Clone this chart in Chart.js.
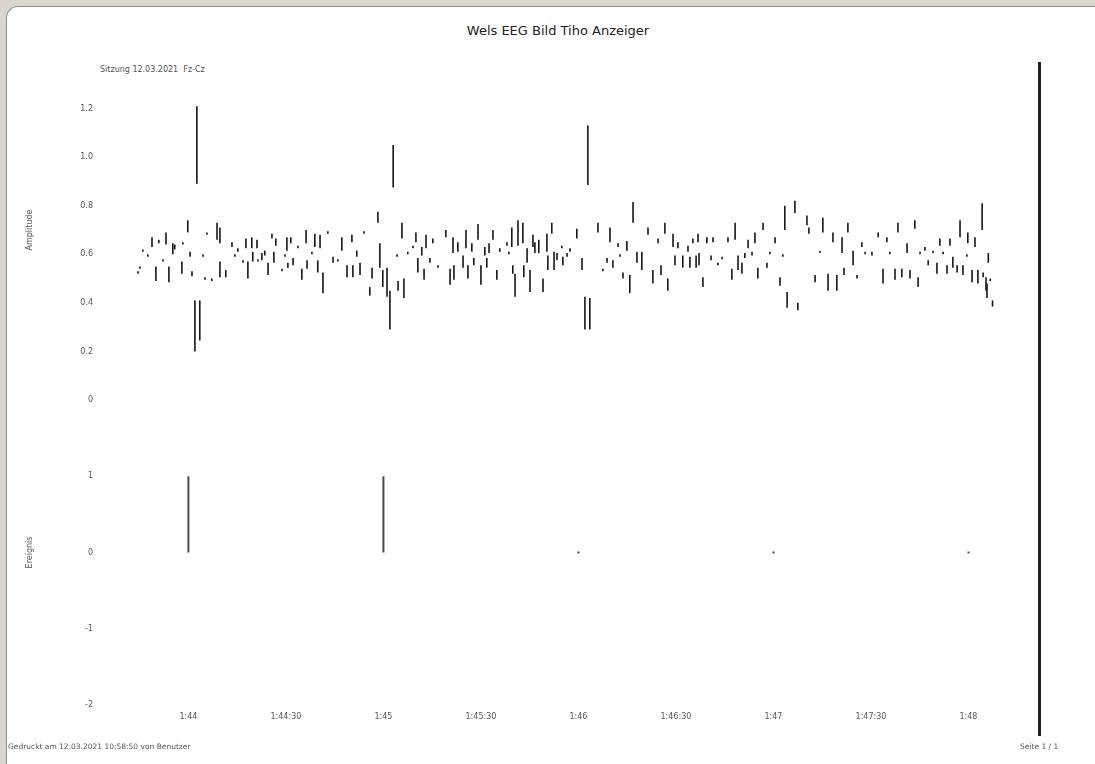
<!DOCTYPE html>
<html>
<head>
<meta charset="utf-8">
<title>Wels EEG Bild Tiho Anzeiger</title>
<script src="https://cdn.jsdelivr.net/npm/chart.js@4.4.1/dist/chart.umd.min.js"></script>
<style>
html,body{margin:0;padding:0;width:1095px;height:764px;overflow:hidden;background:#dad6cb;font-family:'DejaVu Sans',sans-serif;}
#panel{position:absolute;left:6px;top:6px;width:1088px;height:757px;background:#fff;border-top:1px solid #8c8c8c;border-left:1px solid #8c8c8c;border-radius:12px 0 0 0;}
#chart{position:absolute;left:0;top:0;}
.txt{position:absolute;white-space:nowrap;}
#title{left:0;width:1116px;top:23px;text-align:center;font-size:13px;color:#222;}
#sub{left:100px;top:65px;font-size:8px;color:#555;}
#footL{left:8px;top:742px;font-size:7.5px;color:#555;}
#footR{left:1020px;top:742px;font-size:7.5px;color:#555;}
#cursor{position:absolute;left:1038px;top:62px;width:3px;height:674px;background:#1e1e1e;}
</style>
</head>
<body>
<div id="panel"></div>
<div class="txt" id="title">Wels EEG Bild Tiho Anzeiger</div>
<div class="txt" id="sub">Sitzung 12.03.2021 &nbsp;Fz-Cz</div>
<div id="cursor"></div>
<canvas id="chart" width="1095" height="764"></canvas>
<div class="txt" id="footL">Gedruckt am 12.03.2021 10:58:50 von Benutzer</div>
<div class="txt" id="footR">Seite 1 / 1</div>
<script>
// ---- data (seconds from first marker, amplitude ranges) ----
const eegSeconds = [
  -15.5,-14.9,-14.0,-12.5,-11.2,-10.0,-9.1,-7.8,-6.9,-6.0,
  -4.8,-4.2,-2.0,-1.7,-0.2,0.5,1.1,2.0,2.6,3.5,
  4.5,5.1,5.7,7.2,8.8,9.7,9.7,11.5,13.4,14.3,
  15.2,16.8,17.7,18.3,19.5,19.8,21.1,21.4,22.6,23.5,
  24.5,25.7,26.3,26.9,28.8,29.7,30.3,30.6,31.5,32.2,
  33.7,34.9,36.2,36.5,38.0,38.9,39.8,40.5,41.4,42.9,
  44.5,46.0,47.2,48.8,50.3,50.6,51.8,52.8,54.0,55.8,
  56.5,58.3,58.9,59.8,61.1,62.0,63.0,64.2,64.5,65.7,
  66.3,67.5,69.1,70.0,70.6,71.8,72.5,73.1,74.3,75.2,
  76.8,79.2,80.5,81.4,81.7,82.9,84.5,85.4,86.0,87.2,
  87.8,89.1,90.0,91.2,91.8,92.5,93.7,94.9,95.8,98.0,
  98.6,99.5,99.8,100.5,101.4,102.9,103.2,104.2,105.1,106.0,
  106.6,107.8,109.1,110.3,110.6,111.8,112.5,113.4,114.9,115.2,
  116.5,117.4,119.5,121.1,122.0,122.9,123.5,126.0,127.5,128.8,
  129.7,130.6,132.2,132.8,133.7,134.9,135.8,136.8,138.0,139.5,
  141.4,142.9,144.5,145.4,146.6,147.5,149.1,149.7,150.6,152.1,
  153.7,154.3,155.2,156.2,156.8,157.1,158.3,159.5,160.8,161.4,
  162.9,164.2,166.0,167.2,168.2,169.1,170.3,171.2,172.2,173.4,
  174.3,175.2,176.8,178.0,178.9,180.5,182.0,182.9,183.5,184.2,
  186.6,187.5,190.3,190.9,192.8,194.3,195.2,196.8,198.3,199.5,
  201.1,201.7,202.9,204.5,205.7,207.2,208.2,210.3,212.2,213.7,
  214.9,215.8,217.4,218.3,219.5,221.1,222.0,223.5,224.5,225.1,
  226.6,227.6,229.1,230.3,231.2,232.2,233.4,234.3,235.2,236.5,
  237.4,238.3,239.5,239.8,241.1,242.0,242.9,244.2,244.5,245.4,
  245.7,246.1,246.7,247.4
];
const eegLow = [
  0.52,0.54,0.61,0.59,0.63,0.49,0.645,0.57,0.64,0.485,
  0.60,0.62,0.52,0.64,0.69,0.59,0.51,0.20,0.89,0.245,
  0.59,0.495,0.68,0.49,0.66,0.645,0.505,0.505,0.63,0.59,
  0.61,0.565,0.625,0.50,0.625,0.57,0.625,0.57,0.575,0.595,
  0.515,0.665,0.565,0.635,0.53,0.59,0.615,0.545,0.645,0.555,
  0.625,0.495,0.645,0.54,0.60,0.63,0.525,0.625,0.44,0.685,
  0.565,0.57,0.615,0.505,0.65,0.505,0.59,0.515,0.685,0.43,
  0.50,0.73,0.545,0.465,0.425,0.29,0.875,0.59,0.45,0.665,
  0.42,0.60,0.625,0.65,0.525,0.595,0.495,0.625,0.565,0.645,
  0.545,0.67,0.475,0.605,0.495,0.61,0.545,0.625,0.50,0.61,
  0.555,0.66,0.475,0.595,0.545,0.605,0.66,0.495,0.61,0.635,
  0.60,0.63,0.52,0.425,0.635,0.645,0.505,0.565,0.445,0.63,
  0.605,0.605,0.445,0.61,0.535,0.685,0.535,0.575,0.625,0.555,
  0.59,0.61,0.665,0.535,0.29,0.885,0.29,0.69,0.53,0.565,
  0.65,0.545,0.63,0.59,0.50,0.615,0.44,0.73,0.565,0.535,
  0.68,0.48,0.645,0.515,0.685,0.45,0.63,0.555,0.625,0.545,
  0.61,0.545,0.645,0.545,0.65,0.555,0.465,0.645,0.575,0.65,
  0.555,0.58,0.65,0.495,0.66,0.535,0.52,0.585,0.625,0.595,
  0.645,0.50,0.70,0.545,0.60,0.645,0.47,0.59,0.70,0.38,
  0.77,0.37,0.72,0.685,0.485,0.605,0.69,0.45,0.65,0.45,
  0.605,0.515,0.69,0.555,0.50,0.63,0.60,0.595,0.67,0.48,
  0.65,0.60,0.495,0.69,0.505,0.605,0.50,0.705,0.465,0.60,
  0.615,0.555,0.605,0.52,0.635,0.60,0.52,0.635,0.545,0.525,
  0.67,0.515,0.59,0.645,0.485,0.63,0.48,0.70,0.505,0.45,
  0.42,0.565,0.49,0.385
];
const eegHigh = [
  0.53,0.55,0.62,0.60,0.67,0.55,0.66,0.58,0.69,0.55,
  0.645,0.64,0.57,0.65,0.74,0.61,0.53,0.41,1.21,0.41,
  0.60,0.505,0.69,0.50,0.73,0.71,0.57,0.535,0.65,0.60,
  0.625,0.575,0.665,0.57,0.67,0.61,0.66,0.58,0.605,0.615,
  0.565,0.685,0.61,0.665,0.54,0.60,0.67,0.565,0.67,0.585,
  0.635,0.54,0.70,0.575,0.61,0.685,0.575,0.68,0.525,0.695,
  0.59,0.58,0.67,0.555,0.68,0.555,0.615,0.565,0.695,0.465,
  0.545,0.775,0.645,0.535,0.545,0.45,1.05,0.60,0.49,0.73,
  0.50,0.61,0.635,0.69,0.585,0.63,0.54,0.68,0.585,0.665,
  0.555,0.70,0.54,0.67,0.555,0.65,0.595,0.70,0.555,0.645,
  0.585,0.725,0.555,0.63,0.585,0.645,0.70,0.535,0.625,0.65,
  0.61,0.71,0.555,0.52,0.74,0.73,0.555,0.625,0.535,0.68,
  0.65,0.66,0.50,0.685,0.595,0.73,0.61,0.605,0.635,0.59,
  0.605,0.625,0.705,0.585,0.425,1.13,0.42,0.73,0.54,0.585,
  0.71,0.575,0.645,0.60,0.525,0.655,0.515,0.815,0.61,0.61,
  0.71,0.535,0.665,0.555,0.73,0.50,0.685,0.595,0.65,0.595,
  0.635,0.59,0.665,0.595,0.685,0.605,0.505,0.67,0.595,0.67,
  0.565,0.59,0.67,0.54,0.73,0.595,0.565,0.605,0.66,0.61,
  0.69,0.545,0.73,0.565,0.61,0.67,0.505,0.60,0.80,0.445,
  0.82,0.40,0.76,0.71,0.515,0.615,0.75,0.52,0.69,0.515,
  0.67,0.545,0.73,0.615,0.515,0.65,0.61,0.61,0.69,0.54,
  0.67,0.61,0.54,0.73,0.54,0.645,0.535,0.74,0.505,0.61,
  0.63,0.575,0.615,0.565,0.665,0.61,0.555,0.665,0.59,0.555,
  0.74,0.555,0.60,0.69,0.535,0.67,0.535,0.81,0.525,0.505,
  0.48,0.605,0.50,0.41
];
const markerSeconds = [0, 60, 120, 180, 240];
const markerValues  = [1, 1, 0, 0, 0];
const xTickSeconds = [0, 30, 60, 90, 120, 150, 180, 210, 240];
const xTickLabels  = ['1:44','1:44:30','1:45','1:45:30','1:46','1:46:30','1:47','1:47:30','1:48'];
const eegTickValues = [0, 0.2, 0.4, 0.6, 0.8, 1.0, 1.2];
const markerTickValues = [-2, -1, 0, 1];

// ---- build chart ----
const eegPoints = eegSeconds.map((t, i) => ({x: t, y: [eegLow[i], eegHigh[i]]}));
const markerPoints = markerSeconds.map((t, i) => ({x: t, y: [0, markerValues[i]]}));
const FONT = "'DejaVu Sans', sans-serif";
const tickFont = {family: FONT, size: 8};
const titleFont = {family: FONT, size: 8};

new Chart(document.getElementById('chart'), {
  type: 'bar',
  data: {
    datasets: [
      {label: 'EEG', data: eegPoints, xAxisID: 'x', yAxisID: 'yEeg',
       backgroundColor: '#151515', borderWidth: 0, barThickness: 1.6, inflateAmount: 0, grouped: false},
      {label: 'Ereignis', data: markerPoints, xAxisID: 'x', yAxisID: 'yMarker',
       backgroundColor: '#4a4a4a', borderWidth: 0, barThickness: 2, inflateAmount: 0, minBarLength: 2, grouped: false}
    ]
  },
  options: {
    responsive: false,
    animation: false,
    layout: {padding: {left: 22, right: 95, top: 60, bottom: 39}},
    plugins: {legend: {display: false}, tooltip: {enabled: false}, title: {display: false}},
    scales: {
      x: {
        type: 'linear', position: 'bottom', min: -27.2, max: 249.7, offset: false,
        grid: {display: false, drawTicks: false}, border: {display: false},
        afterBuildTicks: s => { s.ticks = xTickSeconds.map(v => ({value: v})); },
        afterFit: s => { s.height = 20; },
        ticks: {padding: 7, autoSkip: false, maxRotation: 0, color: '#555', font: tickFont,
                callback: v => xTickLabels[xTickSeconds.indexOf(v)]}
      },
      yMarker: {
        type: 'linear', position: 'left', stack: 'eeg', stackWeight: 305, min: -2, max: 2,
        grid: {display: false, drawTicks: false}, border: {display: false},
        afterBuildTicks: s => { s.ticks = markerTickValues.map(v => ({value: v})); },
        afterFit: s => { s.width = 78; },
        ticks: {padding: 7, color: '#555', font: tickFont, callback: v => String(v)},
        title: {display: true, text: 'Ereignis', color: '#555', font: titleFont, padding: {top: 3, bottom: 0}}
      },
      yEeg: {
        type: 'linear', position: 'left', stack: 'eeg', stackWeight: 340, min: 0, max: 1.4,
        grid: {display: false, drawTicks: false}, border: {display: false},
        afterBuildTicks: s => { s.ticks = eegTickValues.map(v => ({value: v})); },
        afterFit: s => { s.width = 78; },
        ticks: {padding: 7, color: '#555', font: tickFont, callback: v => (v === 0 ? '0' : v.toFixed(1))},
        title: {display: true, text: 'Amplitude', color: '#555', font: titleFont, padding: {top: 3, bottom: 0}}
      }
    }
  }
});
</script>
</body>
</html>
